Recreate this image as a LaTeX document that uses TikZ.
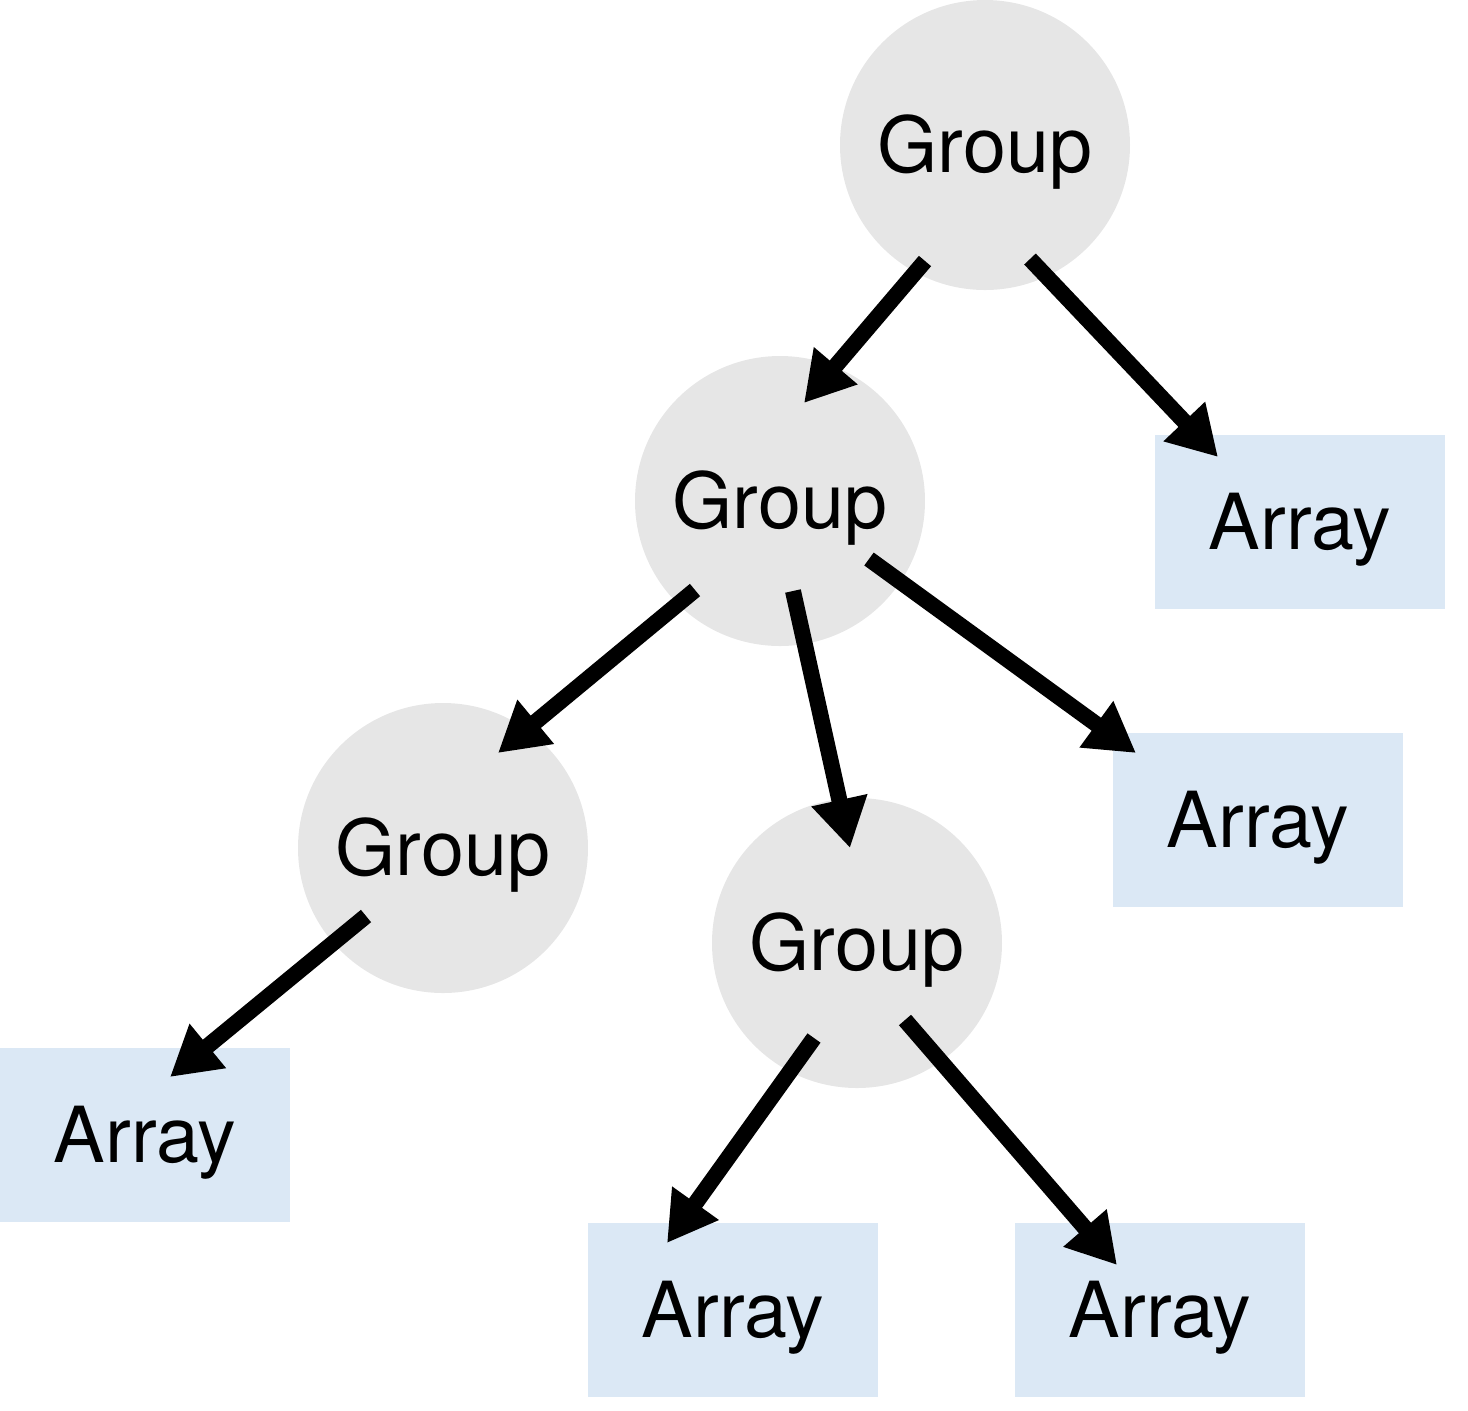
\documentclass[tikz,border=0pt]{standalone}
\usepackage{fontspec}
\setmainfont{TeX Gyre Heros}
\usepackage{tikz}
\usetikzlibrary{arrows.meta,calc}
\definecolor{groupgray}{RGB}{230,230,230}
\definecolor{arrayblue}{RGB}{219,232,245}
\tikzset{
 bigtext/.style={font=\fontsize{22}{26}\selectfont, text height=0.556cm, text depth=0pt}
}
\tikzstyle{groupnode}=[circle, fill=groupgray, minimum size=2.9cm, inner sep=0pt, bigtext]
\tikzstyle{arraynode}=[rectangle, fill=arrayblue, minimum width=2.9cm, minimum height=1.74cm, inner sep=0pt, bigtext]
\tikzstyle{link}=[line width=0.16cm, -{Triangle[length=0.49cm,width=0.54cm]}]

\begin{document}
\begin{tikzpicture}
 \useasboundingbox (0,0) rectangle (14.68,-14.10);
%
 \node[groupnode] (g1) at (9.85,-1.45) {Group};
 \node[groupnode] (g2) at (7.80,-5.01) {Group};
 \node[groupnode] (g3) at (4.43,-8.48) {Group};
 \node[groupnode] (g4) at (8.57,-9.43) {Group};
%
 \node[arraynode] (a1) at (13.00,-5.22) {Array};
 \node[arraynode] (a2) at (12.58,-8.20) {Array};
 \node[arraynode] (a3) at (1.45,-11.35) {Array};
 \node[arraynode] (a4) at (7.33,-13.10) {Array};
 \node[arraynode] (a5) at (11.60,-13.10) {Array};
%
 \draw[link] ($(g1)+(-0.60,-1.16)$) -- ($(g2)+(0.24,0.98)$);
 \draw[link] ($(g1)+(0.45,-1.14)$) -- ($(a1)+(-0.82,0.65)$);
 \draw[link] ($(g2)+(-0.85,-0.89)$) -- ($(g3)+(0.55,0.95)$);
 \draw[link] ($(g2)+(0.13,-0.90)$) -- ($(g4)+(-0.07,0.95)$);
 \draw[link] ($(g2)+(0.89,-0.58)$) -- ($(a2)+(-1.22,0.67)$);
 \draw[link] ($(g3)+(-0.77,-0.68)$) -- ($(a3)+(0.25,0.58)$);
 \draw[link] ($(g4)+(-0.43,-0.95)$) -- ($(a4)+(-0.66,0.67)$);
 \draw[link] ($(g4)+(0.48,-0.77)$) -- ($(a5)+(-0.43,0.45)$);
\end{tikzpicture}
\end{document}
